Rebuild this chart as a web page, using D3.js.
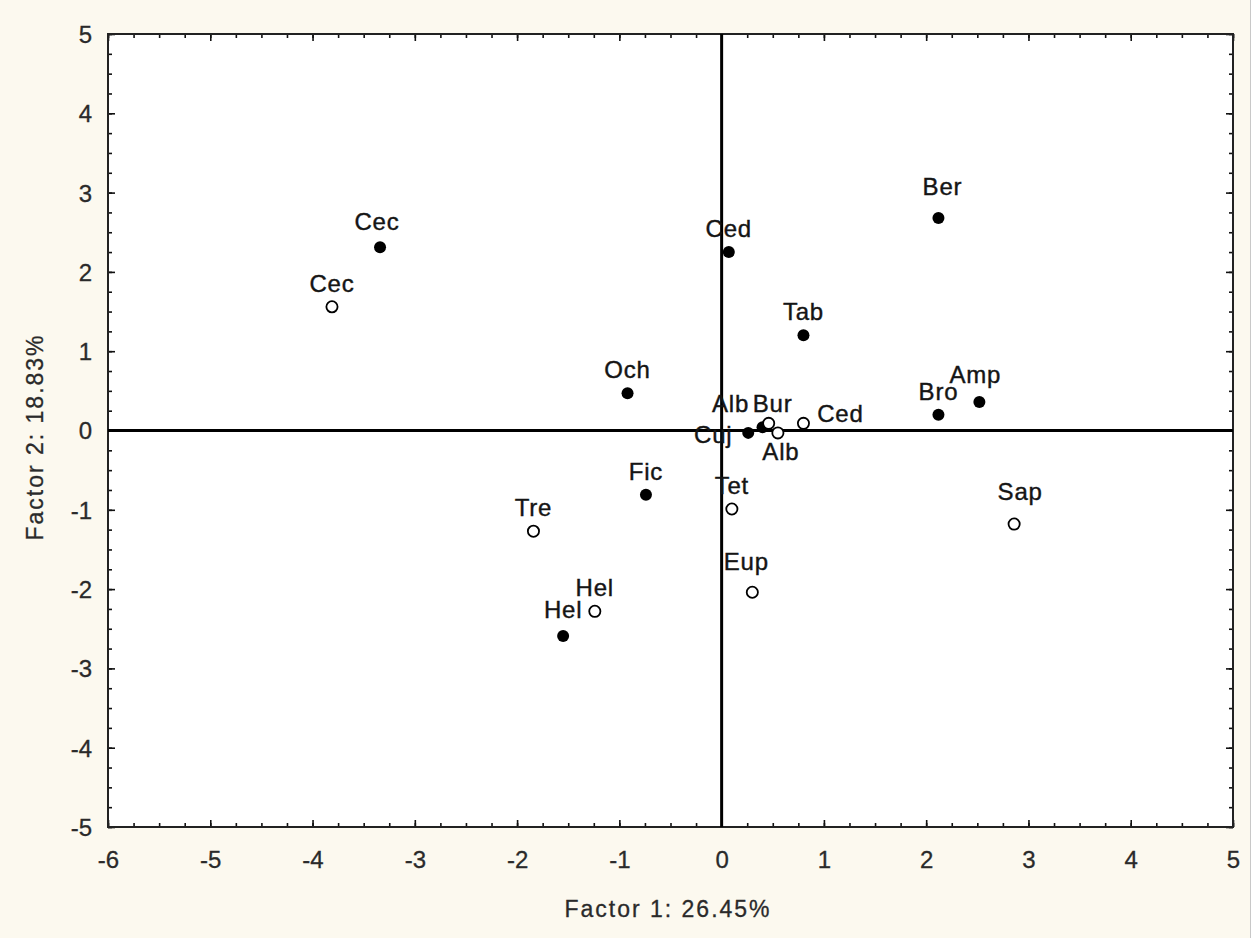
<!DOCTYPE html>
<html>
<head>
<meta charset="utf-8">
<script src="https://cdn.jsdelivr.net/npm/d3@7"></script>
<style>
  html, body { margin: 0; padding: 0; background: #fcf9ef; }
  svg { display: block; }
  text { font-family: "Liberation Sans", Arial, sans-serif; }
</style>
</head>
<body>
<svg id="chart" width="1256" height="938"></svg>
<script>
// ---- data ----
const filledLabels = ["Cec", "Ced", "Ber", "Tab", "Och", "Bro", "Amp", "Alb", "Cuj", "Fic", "Hel"];
const filledX = [-3.34, 0.07, 2.12, 0.80, -0.92, 2.12, 2.52, 0.40, 0.26, -0.74, -1.55];
const filledY = [2.31, 2.25, 2.68, 1.20, 0.47, 0.20, 0.36, 0.04, -0.03, -0.81, -2.59];

const openLabels = ["Cec", "Bur", "Ced", "Alb", "Tet", "Eup", "Tre", "Hel", "Sap"];
const openX = [-3.81, 0.46, 0.80, 0.55, 0.10, 0.30, -1.84, -1.24, 2.86];
const openY = [1.56, 0.09, 0.09, -0.03, -0.99, -2.04, -1.27, -2.28, -1.18];

const xTicks = [-6, -5, -4, -3, -2, -1, 0, 1, 2, 3, 4, 5];
const yTicks = [-5, -4, -3, -2, -1, 0, 1, 2, 3, 4, 5];
const xTitle = "Factor 1: 26.45%";
const yTitle = "Factor 2: 18.83%";

// ---- layout ----
const W = 1256, H = 938;
const L = 108, R = 1233, T = 34, B = 827;
const defaultOffset = [0, -15];
const filledOffsets = { 7: [-32, -15], 8: [-35, 10], 10: [0, -18], 6: [-4, -19], 2: [4, -23], 0: [-3, -17] };
const openOffsets = { 1: [4, -11], 2: [37, -1], 3: [3, 27], 5: [-6, -22], 8: [6, -24] };
const fmt = d => String(d);

const svg = d3.select("#chart");
svg.append("rect").attr("width", W).attr("height", H).attr("fill", "#fcf9ef");
svg.append("line").attr("x1", 1250.5).attr("x2", 1250.5).attr("y1", 0).attr("y2", H)
  .attr("stroke", "#c8c8c8").attr("stroke-width", 1);
svg.append("rect").attr("x", 1251).attr("y", 0).attr("width", 5).attr("height", H).attr("fill", "#ffffff");

const x = d3.scaleLinear().domain([-6, 5]).range([L, R]);
const y = d3.scaleLinear().domain([-5, 5]).range([B, T]);

svg.append("rect").attr("x", L).attr("y", T).attr("width", R - L).attr("height", B - T).attr("fill", "#ffffff");

const minorX = d3.range(-6, 5.001, 0.25);
const minorY = d3.range(-5, 5.001, 0.25);

function styleAxis(g) {
  g.select(".domain").remove();
  g.selectAll(".tick line").attr("stroke", "#111").attr("stroke-width", 1.6);
}

// minor ticks
svg.append("g").attr("transform", `translate(0,${B})`)
  .call(d3.axisBottom(x).tickValues(minorX).tickSize(-4).tickFormat("")).call(styleAxis);
svg.append("g").attr("transform", `translate(0,${T})`)
  .call(d3.axisTop(x).tickValues(minorX).tickSize(-4).tickFormat("")).call(styleAxis);
svg.append("g").attr("transform", `translate(${L},0)`)
  .call(d3.axisLeft(y).tickValues(minorY).tickSize(-4).tickFormat("")).call(styleAxis);
svg.append("g").attr("transform", `translate(${R},0)`)
  .call(d3.axisRight(y).tickValues(minorY).tickSize(-4).tickFormat("")).call(styleAxis);

// major ticks with labels
const gxb = svg.append("g").attr("transform", `translate(0,${B})`)
  .call(d3.axisBottom(x).tickValues(xTicks).tickSize(-7).tickPadding(0).tickFormat(fmt));
styleAxis(gxb);
gxb.selectAll(".tick text").attr("y", 41).attr("dy", 0).attr("font-size", 24).attr("fill", "#2a2a2a")
  .attr("stroke", "#2a2a2a").attr("stroke-width", 0.3)
  .style("font-family", "'Liberation Sans', Arial, sans-serif");

const gyl = svg.append("g").attr("transform", `translate(${L},0)`)
  .call(d3.axisLeft(y).tickValues(yTicks).tickSize(-7).tickFormat(fmt));
styleAxis(gyl);
gyl.selectAll(".tick text").attr("x", -16).attr("dy", "0.35em").attr("font-size", 24).attr("fill", "#2a2a2a")
  .attr("stroke", "#2a2a2a").attr("stroke-width", 0.3)
  .style("font-family", "'Liberation Sans', Arial, sans-serif");

svg.append("g").attr("transform", `translate(0,${T})`)
  .call(d3.axisTop(x).tickValues(xTicks).tickSize(-7).tickFormat("")).call(styleAxis);
svg.append("g").attr("transform", `translate(${R},0)`)
  .call(d3.axisRight(y).tickValues(yTicks).tickSize(-7).tickFormat("")).call(styleAxis);

// frame
svg.append("rect").attr("x", L).attr("y", T).attr("width", R - L).attr("height", B - T)
  .attr("fill", "none").attr("stroke", "#222").attr("stroke-width", 2);

// zero lines
svg.append("line").attr("x1", x(0)).attr("x2", x(0)).attr("y1", T).attr("y2", B)
  .attr("stroke", "#000").attr("stroke-width", 3);
svg.append("line").attr("x1", L).attr("x2", R).attr("y1", y(0)).attr("y2", y(0))
  .attr("stroke", "#000").attr("stroke-width", 3);

// points
const filled = filledLabels.map((l, i) => ({ label: l, x: filledX[i], y: filledY[i], off: filledOffsets[i] || defaultOffset }));
const open = openLabels.map((l, i) => ({ label: l, x: openX[i], y: openY[i], off: openOffsets[i] || defaultOffset }));

svg.append("g").selectAll("circle").data(filled).join("circle")
  .attr("cx", d => x(d.x)).attr("cy", d => y(d.y)).attr("r", 6).attr("fill", "#000");
svg.append("g").selectAll("circle").data(open).join("circle")
  .attr("cx", d => x(d.x)).attr("cy", d => y(d.y)).attr("r", 5.6)
  .attr("fill", "#fff").attr("stroke", "#000").attr("stroke-width", 1.8);

const allPts = filled.concat(open);
svg.append("g").selectAll("text").data(allPts).join("text")
  .attr("x", d => x(d.x) + d.off[0]).attr("y", d => y(d.y) + d.off[1])
  .attr("text-anchor", "middle").attr("font-size", 24).attr("letter-spacing", 0.8)
  .attr("fill", "#151515").attr("stroke", "#151515").attr("stroke-width", 0.4).text(d => d.label);

// titles
svg.append("text").attr("x", 668).attr("y", 917).attr("text-anchor", "middle")
  .attr("font-size", 23).attr("letter-spacing", 2).attr("fill", "#2a2a2a")
  .attr("stroke", "#2a2a2a").attr("stroke-width", 0.3).text(xTitle);
svg.append("text").attr("transform", `translate(43,437) rotate(-90)`).attr("text-anchor", "middle")
  .attr("font-size", 23).attr("letter-spacing", 2).attr("fill", "#2a2a2a")
  .attr("stroke", "#2a2a2a").attr("stroke-width", 0.3).text(yTitle);
</script>
</body>
</html>
